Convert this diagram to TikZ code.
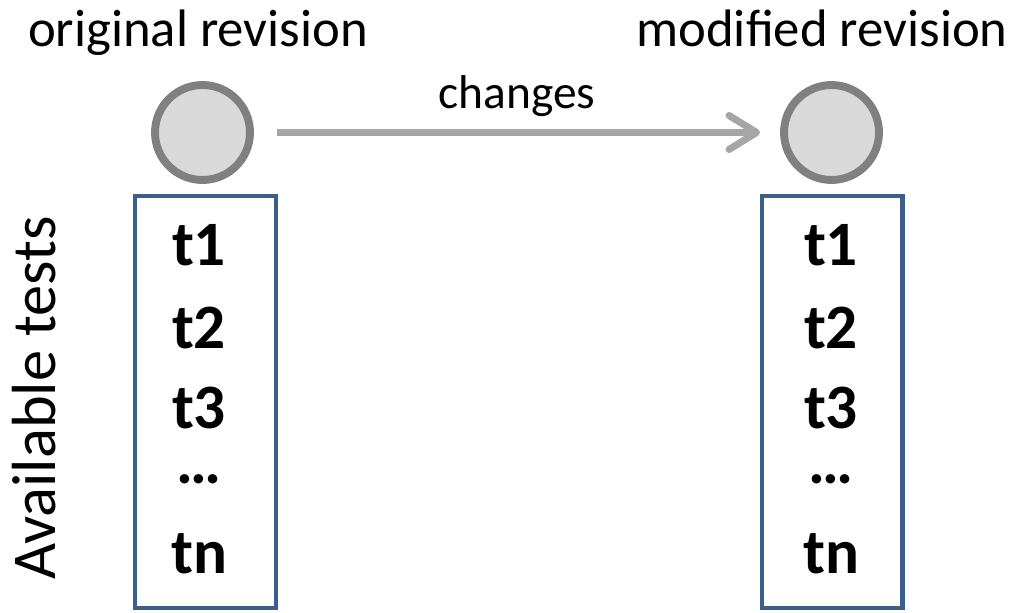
\documentclass[tikz,border=0pt]{standalone}
\usepackage{fontspec}
\setmainfont{Carlito}
\usetikzlibrary{arrows.meta}
\definecolor{revfill}{HTML}{D9D9D9}
\definecolor{revline}{HTML}{808080}
\definecolor{changeline}{HTML}{A6A6A6}
\definecolor{boxline}{HTML}{3B5E8C}

\begin{document}
\begin{tikzpicture}[x=0.02cm,y=-0.02cm,
	rev/.style={circle,draw=revline,fill=revfill,line width=4.5pt,minimum size=1.9cm,inner sep=0pt},
	testbox/.style={rectangle,draw=boxline,line width=2.3pt,minimum width=2.82cm,minimum height=8.24cm,inner sep=0pt},
	test/.style={anchor=base,inner sep=0pt,font=\fontsize{36}{36}\selectfont\bfseries},
	title/.style={anchor=base,inner sep=0pt,font=\fontsize{30}{30}\selectfont},
	change/.style={draw=changeline,line width=4pt,-{Straight Barb[length=0.55cm,width=0.68cm,round]},shorten <=0.46cm,shorten >=0.4cm}]
				\useasboundingbox (0,0) rectangle (1016,612);
				
				\node[title] (origtitle) at (198,46) {original revision};
				\node[title] (modtitle) at (822,46) {modified revision};
				
				\node[rev] (orig) at (202.5,132.5) {};
				\node[rev] (mod) at (831.5,132.5) {};
				\draw[change] (orig) -- (mod) node[midway,anchor=base,inner sep=0pt,yshift=0.48cm,font=\fontsize{27}{27}\selectfont,text=black] (changes) {changes};
				
				\node[testbox] (origbox) at (205.5,402) {};
				\node[testbox] (modbox) at (832,402) {};
				\foreach \t/\y [count=\i] in {t1/265,t2/348,t3/428,…/483,tn/573} {
					\node[test] (otest\i) at (199,\y) {\t};
					\node[test] (mtest\i) at (831,\y) {\t};
				}
				
				\node[rotate=90,anchor=base,inner sep=0pt,font=\fontsize{35.5}{36}\selectfont] (avail) at (55,398) {Available tests};
			\end{tikzpicture}
\end{document}
